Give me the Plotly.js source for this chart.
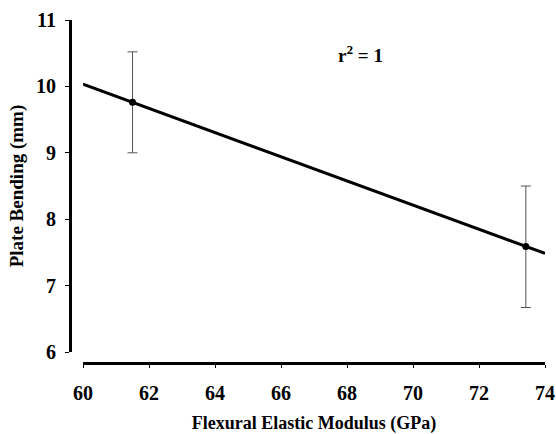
<!DOCTYPE html>
<html>
<head>
<meta charset="utf-8">
<script src="https://cdn.plot.ly/plotly-3.0.1.min.js"></script>
<style>html,body{margin:0;padding:0;background:#fff;}#chart{width:556px;height:434px;}</style>
</head>
<body>
<div id="chart"></div>
<script>
// Data
const modulus = [61.5, 73.42];          // Flexural elastic modulus (GPa)
const bending = [9.76, 7.59];           // Plate bending (mm)
const errPlus = [0.76, 0.91];
const errMinus = [0.76, 0.92];
const trendRange = [60, 74];            // extent of the fitted line
const xTicks = [60, 62, 64, 66, 68, 70, 72, 74];
const yTicks = [6, 7, 8, 9, 10, 11];

// least-squares fit through the data points
const n = modulus.length;
const mx = modulus.reduce((a, b) => a + b, 0) / n;
const my = bending.reduce((a, b) => a + b, 0) / n;
let sxy = 0, sxx = 0;
for (let i = 0; i < n; i++) { sxy += (modulus[i] - mx) * (bending[i] - my); sxx += (modulus[i] - mx) ** 2; }
const slope = sxy / sxx, icpt = my - slope * mx;
const trendY = trendRange.map(x => icpt + slope * x);

const font = '"Liberation Serif", serif';

const traces = [
  {
    x: trendRange, y: trendY, mode: 'lines', type: 'scatter',
    line: {color: '#000', width: 3}, hoverinfo: 'skip', showlegend: false
  },
  {
    x: modulus, y: bending, mode: 'markers', type: 'scatter',
    marker: {color: '#000', size: 7},
    error_y: {type: 'data', array: errPlus, arrayminus: errMinus, visible: true,
              color: '#555', thickness: 1, width: 5},
    showlegend: false
  }
];

const L = 70, R = 11, T = 20, B = 71;
const W = 556 - L - R, H = 434 - T - B;

const layout = {
  width: 556, height: 434,
  margin: {l: L, r: R, t: T, b: B},
  paper_bgcolor: '#fff', plot_bgcolor: '#fff',
  font: {family: font, color: '#000'},
  xaxis: {
    range: [60, 74], tickvals: xTicks, ticktext: xTicks.map(v => '<b>' + v + '</b>'),
    domain: [13 / W, 1], anchor: 'free', position: 0,
    showgrid: false, zeroline: false, showline: true, linecolor: '#000', linewidth: 3,
    ticks: 'outside', ticklen: 3, tickwidth: 1, tickcolor: '#000',
    ticklabelstandoff: 8,
    tickfont: {family: font, size: 20},
    title: {text: '<b>Flexural Elastic Modulus (GPa)</b>', font: {family: font, size: 18}, standoff: 14}
  },
  yaxis: {
    range: [6, 11], tickvals: yTicks, ticktext: yTicks.map(v => '<b>' + v + '</b>'),
    domain: [11 / H, 1], anchor: 'free', position: 0,
    showgrid: false, zeroline: false, showline: true, linecolor: '#000', linewidth: 3,
    ticks: 'outside', ticklen: 4, tickwidth: 1, tickcolor: '#000',
    ticklabelstandoff: 5,
    tickfont: {family: font, size: 20},
    title: {text: '<b>Plate Bending (mm)</b>', font: {family: font, size: 19}, standoff: 6}
  },
  annotations: [{
    text: '<b>r<sup>2</sup> = 1</b>', xref: 'paper', yref: 'paper',
    x: (360 - L) / W, y: 1 - (54 - T) / H, xanchor: 'center', yanchor: 'middle',
    showarrow: false, font: {family: font, size: 19, color: '#000'}
  }]
};

Plotly.newPlot('chart', traces, layout, {displayModeBar: false, staticPlot: true});
</script>
</body>
</html>
